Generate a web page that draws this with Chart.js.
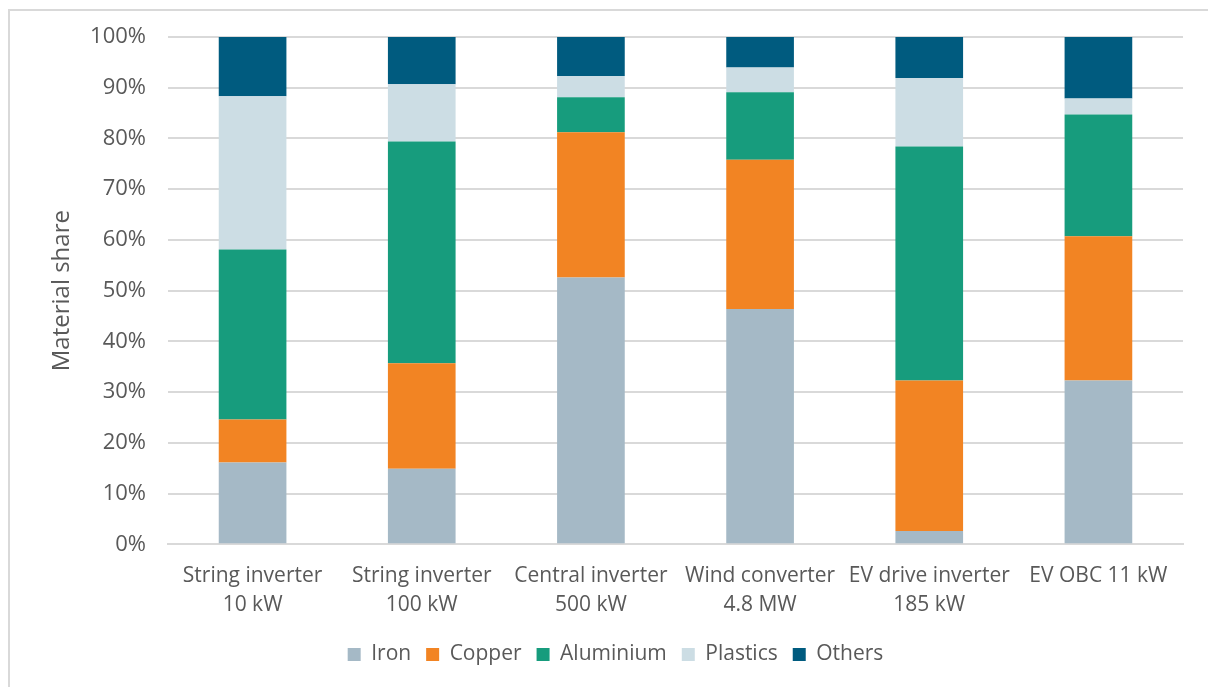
<!DOCTYPE html>
<html>
<head>
<meta charset="utf-8">
<script src="https://cdn.jsdelivr.net/npm/chart.js@4"></script>
<style>
  html, body { margin: 0; padding: 0; background: #fff; }
  #wrap { position: relative; width: 1208px; height: 687px; }
  #frame { position: absolute; left: 8px; top: 9px; width: 1300px; height: 800px;
           border-left: 2px solid #d9d9d9; border-top: 2px solid #d9d9d9; }
  canvas { position: absolute; left: 0; top: 0; }
</style>
</head>
<body>
<div id="wrap">
  <div id="frame"></div>
  <canvas id="chart" width="1208" height="687"></canvas>
</div>
<script>
const ctx = document.getElementById('chart');

// categories (two-line labels)
const categories = [
  ['String inverter', '10 kW'],
  ['String inverter', '100 kW'],
  ['Central inverter', '500 kW'],
  ['Wind converter', '4.8 MW'],
  ['EV drive inverter', '185 kW'],
  ['EV OBC 11 kW']
];

// material shares in %
const iron      = [16.1, 14.9, 52.6, 46.4,  2.6, 32.3];
const copper    = [ 8.5, 20.8, 28.6, 29.4, 29.7, 28.4];
const aluminium = [33.5, 43.7,  6.9, 13.3, 46.1, 24.0];
const plastics  = [30.2, 11.3,  4.2,  4.9, 13.5,  3.2];
const others    = [11.7,  9.3,  7.7,  6.0,  8.1, 12.1];

const yTicks = [0, 10, 20, 30, 40, 50, 60, 70, 80, 90, 100];

const textColor = '#595959';
const fam = '"Open Sans", sans-serif';

function series(label, values, color) {
  return {
    label: label,
    data: values,
    backgroundColor: color,
    borderWidth: 0,
    barPercentage: 0.4,
    categoryPercentage: 1.0
  };
}

const data = {
  labels: categories,
  datasets: [
    series('Iron', iron, '#a5b9c6'),
    series('Copper', copper, '#f28423'),
    series('Aluminium', aluminium, '#179c7d'),
    series('Plastics', plastics, '#ccdde4'),
    series('Others', others, '#005b7f')
  ]
};

const config = {
  type: 'bar',
  data: data,
  options: {
    responsive: false,
    animation: false,
    layout: { padding: { left: 48, right: 25, top: 37, bottom: 12 } },
    plugins: {
      legend: {
        position: 'bottom',
        labels: {
          color: textColor,
          font: { family: fam, size: 21 },
          boxWidth: 13,
          boxHeight: 13,
          padding: 15
        }
      },
      tooltip: { enabled: false }
    },
    scales: {
      x: {
        stacked: true,
        grid: { display: false },
        border: { display: true, color: '#d9d9d9', width: 2 },
        ticks: {
          color: textColor,
          font: { family: fam, size: 21, lineHeight: 1.35 },
          maxRotation: 0,
          padding: 10
        }
      },
      y: {
        stacked: true,
        min: 0,
        max: 100,
        afterBuildTicks: function (scale) {
          scale.ticks = yTicks.map(v => ({ value: v }));
        },
        afterFit: function (scale) { scale.width = 120; },
        grid: { color: '#d9d9d9', lineWidth: 2, drawTicks: false },
        border: { display: false },
        ticks: {
          color: textColor,
          font: { family: fam, size: 22 },
          padding: 22,
          callback: v => v + '%'
        },
        title: {
          display: true,
          text: 'Material share',
          color: textColor,
          font: { family: fam, size: 24 },
          padding: 0
        }
      }
    }
  }
};

new Chart(ctx, config);
</script>
</body>
</html>
